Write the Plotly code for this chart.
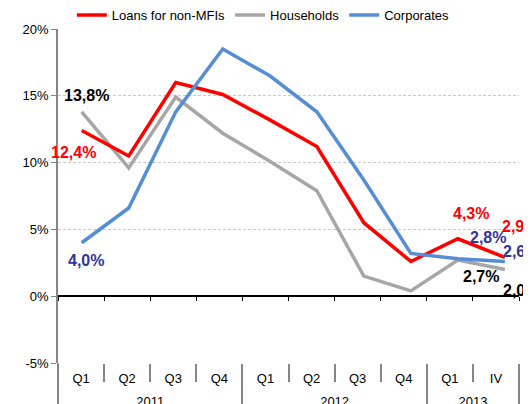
import plotly.graph_objects as go

years = ["2011", "2012", "2013"]
year_sizes = [4, 4, 2]
quarters = ["Q1", "Q2", "Q3", "Q4", "Q1", "Q2", "Q3", "Q4", "Q1", "IV"]

loans = [12.4, 10.5, 16.0, 15.1, 13.2, 11.2, 5.5, 2.6, 4.3, 2.9]
households = [13.8, 9.6, 14.9, 12.2, 10.1, 7.9, 1.5, 0.4, 2.7, 2.0]
corporates = [4.0, 6.6, 13.8, 18.5, 16.5, 13.8, 8.7, 3.2, 2.8, 2.6]

y_ticks = [-5, 0, 5, 10, 15, 20]
y_ticktext = ["-5%", "0%", "5%", "10%", "15%", "20%"]

RED = "#FF0000"
GRAY = "#A6A6A6"
BLUE = "#558ED5"
NAVY = "#333399"
AXC = "#868686"
FONT = "Liberation Sans, Arial, sans-serif"

n = len(quarters)
xs = list(range(n))
q_bounds = [i - 0.5 for i in range(n + 1)]
y_bounds = [-0.5]
y_centers = []
for s in year_sizes:
    start = y_bounds[-1]
    y_bounds.append(start + s)
    y_centers.append(start + s / 2)

fig = go.Figure()
fig.add_trace(go.Scatter(x=xs, y=households, mode="lines", name="Households",
                         line=dict(color=GRAY, width=3.5), legendrank=2))
fig.add_trace(go.Scatter(x=xs, y=loans, mode="lines", name="Loans for non-MFIs",
                         line=dict(color=RED, width=3.5), legendrank=1))
fig.add_trace(go.Scatter(x=xs, y=corporates, mode="lines", name="Corporates",
                         line=dict(color=BLUE, width=3.5), legendrank=3))
# carriers so that the helper axes are drawn
for ax in ["x2", "x3", "x4"]:
    fig.add_trace(go.Scatter(x=[None], y=[None], xaxis=ax, showlegend=False, hoverinfo="skip"))

def lab(text, idx, series, color, dx, dy):
    fig.add_annotation(x=xs[idx], y=series[idx], xref="x", yref="y", text=f"<b>{text}</b>",
                       showarrow=False, xshift=dx, yshift=dy,
                       font=dict(size=16, color=color, family=FONT))

lab("13,8%", 0, households, "#000000", 5, 16)
lab("12,4%", 0, loans, RED, -8, -22)
lab("4,0%", 0, corporates, NAVY, 4, -18)
lab("4,3%", 8, loans, RED, 13, 25)
lab("2,8%", 8, corporates, NAVY, 30, 21)
lab("2,9%", 9, loans, RED, 15, 31)
lab("2,6%", 9, corporates, NAVY, 16, 10)
lab("2,7%", 8, households, "#000000", 23, -16)
lab("2,0%", 9, households, "#000000", 16, -21)

# page has an 8px body margin, so the figure is sized to fill the rest of the window
fig.update_layout(
    width=523, height=396,
    margin=dict(l=50, r=12, t=21, b=41, autoexpand=False),
    paper_bgcolor="white", plot_bgcolor="white",
    font=dict(family=FONT, size=13, color="#000000"),
    showlegend=True,
    legend=dict(orientation="h", x=0.03, y=1.042, xanchor="left", yanchor="middle",
                font=dict(size=13), itemwidth=30, bgcolor="rgba(0,0,0,0)"),
    xaxis=dict(range=[-0.504, 9.30], visible=False, showgrid=False, zeroline=False),
    # quarter labels + quarter separators
    xaxis2=dict(overlaying="x", anchor="y", side="bottom", range=[-0.5, n - 0.5],
                tickmode="array", tickvals=xs, ticktext=quarters, ticks="",
                ticklabelstandoff=6, showgrid=False, zeroline=False, showline=False,
                tickfont=dict(size=13, color="#000000"), automargin=False,
                minor=dict(tickmode="array", tickvals=q_bounds, ticks="outside", ticklen=18,
                           tickwidth=1.5, tickcolor=AXC, showgrid=False)),
    # year labels + year separators
    xaxis4=dict(overlaying="x", anchor="y", side="bottom", range=[-0.5, n - 0.5],
                tickmode="array", tickvals=y_centers, ticktext=years, ticks="",
                ticklabelstandoff=29, showgrid=False, zeroline=False, showline=False,
                tickfont=dict(size=13, color="#000000"), automargin=False,
                minor=dict(tickmode="array", tickvals=y_bounds, ticks="outside", ticklen=41,
                           tickwidth=1.5, tickcolor=AXC, showgrid=False)),
    # zero line with boundary ticks
    xaxis3=dict(overlaying="x", anchor="free", position=0.2, range=[-0.5, n - 0.5],
                tickmode="array", tickvals=q_bounds,
                showticklabels=False, ticks="outside", ticklen=4, tickcolor="#000000",
                showline=True, linecolor="#000000", linewidth=1.5, showgrid=False,
                zeroline=False, automargin=False),
    yaxis=dict(range=[-5, 20], tickmode="array", tickvals=y_ticks, ticktext=y_ticktext,
               showgrid=True, gridcolor="#C8C8C8", griddash="3px,2px", gridwidth=1,
               zeroline=False, showline=True, linecolor=AXC, linewidth=1.5,
               ticks="outside", ticklen=5, tickcolor=AXC,
               tickfont=dict(size=13, color="#000000"), automargin=False),
)

fig.add_shape(type="line", xref="paper", yref="paper", x0=0, x1=0, y0=0, y1=-41 / 334,
              line=dict(color=AXC, width=1.5))

fig.write_html("out.html")
